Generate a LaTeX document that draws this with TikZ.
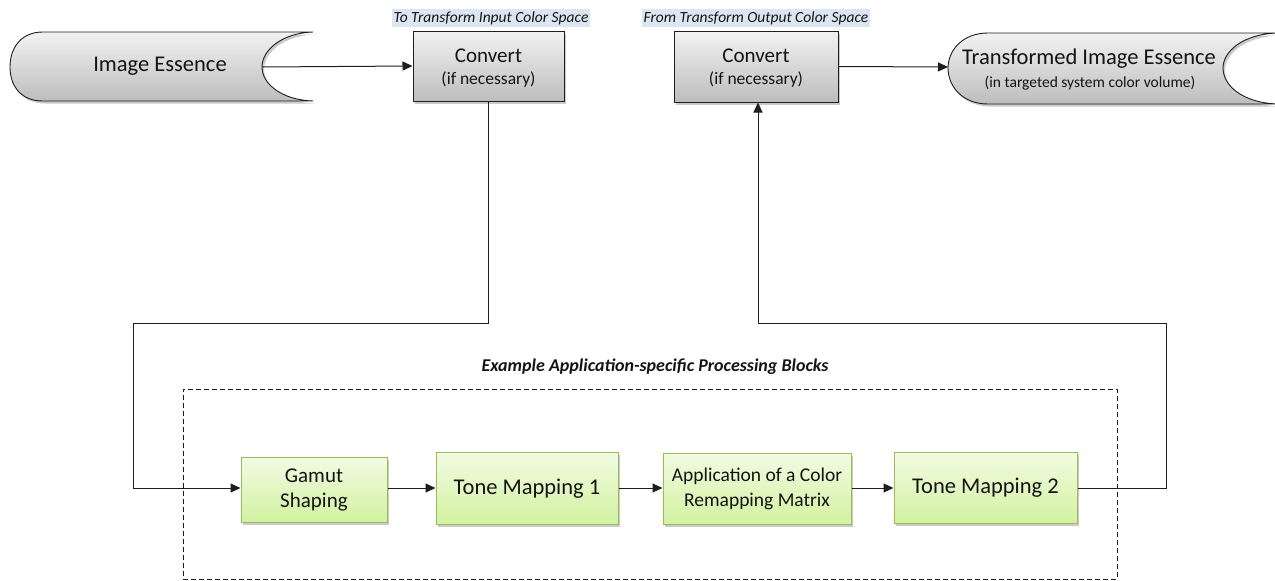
\documentclass[tikz,border=0pt]{standalone}
\usepackage{fontspec}
\setmainfont{Carlito}
\usetikzlibrary{arrows.meta,shadows,positioning}
\definecolor{grayTop}{HTML}{F2F2F2}
\definecolor{grayBot}{HTML}{BDBDBD}
\definecolor{greenTop}{HTML}{F2FBE2}
\definecolor{greenBot}{HTML}{D2F2A0}
\definecolor{greenEdge}{HTML}{9BBB59}
\definecolor{labelBg}{HTML}{DCE6F2}
\definecolor{lineCol}{HTML}{1E1E1E}
\definecolor{txt}{HTML}{141414}
\tikzset{
  x=1pt,y=1pt,
  fsz/.style={font=\fontsize{#1}{#1}\selectfont},
  shade gray/.style={top color=grayTop,bottom color=grayBot},
  myshadow/.style={drop shadow={shadow xshift=2pt,shadow yshift=-2.5pt,opacity=0.35,fill=black!60}},
  graybox/.style={draw=lineCol,line width=1pt,shade gray,myshadow,align=center,inner sep=0pt,text=txt},
  greenbox/.style={draw=greenEdge,line width=1pt,top color=greenTop,bottom color=greenBot,myshadow,align=center,inner sep=0pt,text=txt},
  capsule/.style={draw=lineCol,line width=0.9pt,shade gray,myshadow},
  wire/.style={draw=lineCol,line width=1pt},
  arr/.style={wire,-{Triangle[length=10pt,width=9pt]}},
  tag/.style={fill=labelBg,inner sep=2pt,font=\itshape\fontsize{15.5}{16}\selectfont,text=txt},
}
\begin{document}
\begin{tikzpicture}
\useasboundingbox (0,0) rectangle (1275,-581);
% Image Essence capsule
\path[capsule] (43,-32) -- (313,-32)
  .. controls (282,-33) and (262,-50) .. (262,-67)
  .. controls (262,-84) and (282,-100) .. (313,-101)
  -- (43,-101)
  .. controls (20,-101) and (10,-85) .. (10,-67)
  .. controls (10,-49) and (20,-32) .. (43,-32) -- cycle;
\node[fsz=22.5,text=txt] (imgE) at (160,-66) {Image Essence};
\coordinate (ieR) at (262,-67);
% Transformed Image Essence capsule
\path[capsule] (988,-33) -- (1278,-33)
  .. controls (1242,-34) and (1223,-52) .. (1223,-68)
  .. controls (1223,-85) and (1242,-103) .. (1278,-104)
  -- (988,-104)
  .. controls (962,-104) and (948,-86) .. (948,-68)
  .. controls (948,-51) and (962,-33) .. (988,-33) -- cycle;
\node[fsz=22.5,text=txt] (trans) at (1089,-59) {Transformed Image Essence};
\node[fsz=15.5,text=txt] (transSub) at (1090,-83) {(in targeted system color volume)};
\coordinate (trL) at (948,-67);
% Convert boxes
\node[graybox,minimum width=151pt,minimum height=70pt] (conv1) at (488.5,-66) {};
\node[fsz=21,text=txt] (conv1a) at (488.5,-56) {Convert};
\node[fsz=17.5,text=txt] (conv1b) at (488.5,-80) {(if necessary)};
\node[graybox,minimum width=164pt,minimum height=71pt] (conv2) at (756,-66.5) {};
\node[fsz=21,text=txt] (conv2a) at (756,-56) {Convert};
\node[fsz=17.5,text=txt] (conv2b) at (756,-80) {(if necessary)};
\node[tag] (lab1) at (491,-18) {To Transform Input Color Space};
\node[tag] (lab2) at (756,-18) {From Transform Output Color Space};
% processing blocks
\node[draw=lineCol,line width=0.9pt,dash pattern=on 5pt off 3pt,minimum width=934pt,minimum height=190pt,inner sep=0pt] (frame) at (650,-484) {};
\node[font=\bfseries\itshape\fontsize{18}{20}\selectfont,text=txt] (ex) at (655,-367) {Example Application-specific Processing Blocks};
\node[greenbox,minimum width=146pt,minimum height=65pt,font=\fontsize{21}{25}\selectfont] (gamut) at (314,-489.5)
  {Gamut\\ Shaping};
\node[greenbox,minimum width=182pt,minimum height=72pt,font=\fontsize{22.5}{26}\selectfont] (tm1) at (527,-488.5)
  {Tone Mapping 1};
\node[greenbox,minimum width=188pt,minimum height=71pt,font=\fontsize{19.5}{25}\selectfont] (app) at (757,-488.5)
  {Application of a Color\\ Remapping Matrix};
\node[greenbox,minimum width=183pt,minimum height=71pt,font=\fontsize{22.5}{26}\selectfont] (tm2) at (985.5,-488)
  {Tone Mapping 2};
% connectors
\coordinate (c1) at (488.5,-323);
\coordinate (c2) at (133,-323);
\coordinate (c3) at (133,-488);
\coordinate (c4) at (1166,-488);
\coordinate (c5) at (1166,-323);
\coordinate (c6) at (758,-323);
\draw[arr] (ieR) -- (conv1.west);
\draw[arr] (conv2.east) -- (trL);
\draw[arr] (conv1.south) -- (c1) -- (c2) -- (c3) -- (gamut.west |- c3);
\draw[arr] (gamut.east |- 0,-488) -- (tm1.west |- 0,-488);
\draw[arr] (tm1.east |- 0,-488) -- (app.west |- 0,-488);
\draw[arr] (app.east |- 0,-488) -- (tm2.west |- 0,-488);
\draw[arr] (tm2.east |- c4) -- (c4) -- (c5) -- (c6) -- (conv2.south -| c6);
\end{tikzpicture}
\end{document}
